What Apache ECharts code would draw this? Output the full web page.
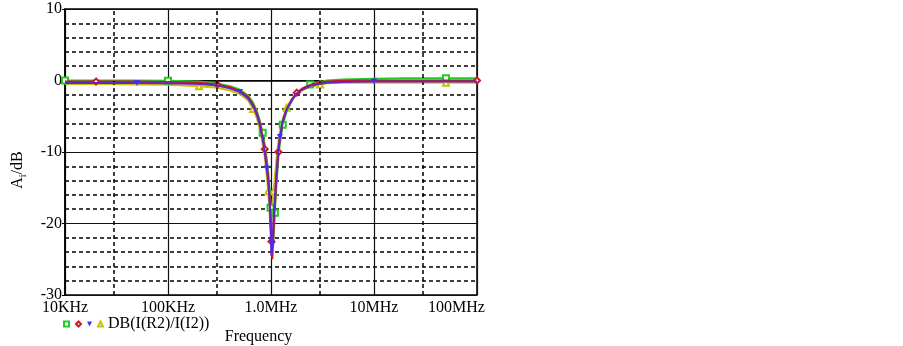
<!DOCTYPE html>
<html><head><meta charset="utf-8">
<script src="https://cdn.jsdelivr.net/npm/echarts@6/dist/echarts.min.js"></script>
<style>html,body{margin:0;padding:0;background:#fff}#c{width:903px;height:346px}</style>
</head><body><div id="c"></div>
<script>
// Frequencies (Hz)
var freqs = [1e4, 2e4, 5e4, 1e5, 2e5, 3e5, 4e5, 5e5, 6e5, 6.7e5, 7.3e5, 7.8e5, 8.3e5, 8.7e5, 9.1e5, 9.4e5, 9.7e5, 9.9e5, 1.01e6, 1.03e6, 1.06e6, 1.09e6, 1.13e6, 1.18e6, 1.22e6, 1.3e6, 1.42e6, 1.6e6, 1.78e6, 2.0e6, 2.4e6, 3.0e6, 3.5e6, 5e6, 1e7, 2e7, 5e7, 1e8];
// DB(I(R2)/I(I2)) runs
var greenDB  = [0, 0, 0, -0.05, -0.15, -0.4, -0.8, -1.3, -2.1, -3.1, -4.3, -5.6, -7.3, -9.0, -11, -12.8, -15.2, -17.8, -20.8, -23.3, -22, -18.5, -14.5, -10.8, -8.8, -6.2, -4.3, -2.8, -1.8, -1.2, -0.55, -0.2, 0, 0.15, 0.25, 0.3, 0.3, 0.3];
var redDB    = [-0.15, -0.15, -0.15, -0.2, -0.3, -0.55, -0.95, -1.45, -2.3, -3.4, -4.6, -6.0, -7.8, -9.6, -11.8, -13.6, -16.2, -19.2, -22.5, -25, -21, -17.5, -13.6, -10, -8.2, -5.8, -4.0, -2.6, -1.7, -1.15, -0.6, -0.3, -0.15, -0.05, 0, 0, 0, 0];
var purpleDB = [-0.35, -0.35, -0.35, -0.4, -0.5, -0.7, -1.1, -1.6, -2.5, -3.6, -4.8, -6.3, -8.2, -10, -12.3, -14.2, -17, -20.5, -24.5, -23, -19.5, -16.5, -13, -9.6, -7.9, -5.7, -4.0, -2.7, -1.8, -1.3, -0.75, -0.45, -0.3, -0.2, -0.15, -0.15, -0.15, -0.15];
var yellowDB = [-0.5, -0.5, -0.55, -0.6, -0.8, -1.0, -1.4, -1.9, -2.8, -4.0, -5.3, -6.9, -8.9, -10.8, -13.3, -15.5, -18.5, -21, -20, -17.5, -15.5, -13.5, -11, -8.5, -7.2, -5.3, -3.8, -2.6, -1.9, -1.4, -0.9, -0.55, -0.4, -0.3, -0.3, -0.3, -0.3, -0.3];
// Axis
var xTickLabels = ['10KHz', '100KHz', '1.0MHz', '10MHz', '100MHz'];
var minorFreqs = [3e4, 3e5, 3e6, 3e7];
var yTickValues = [-30, -20, -10, 0, 10];

function pairs(ys) { return freqs.map(function (f, i) { return [f, ys[i]]; }); }
function markerAt(idx, sym) {
  return function (v, p) { return idx.indexOf(p.dataIndex) >= 0 ? sym : 'none'; };
}
var font = 'Liberation Serif';
var triDown = 'path://M0,0L10,0L5,10Z';

var chart = echarts.init(document.getElementById('c'));
chart.setOption({
  animation: false,
  grid: { left: 65, right: 426, top: 9, bottom: 51, containLabel: false, outerBoundsMode: 'none',
    show: true, borderColor: '#000', borderWidth: 1.5 },
  legend: {
    left: 58, top: 311, itemWidth: 5, itemHeight: 5, itemGap: 5,
    textStyle: { fontFamily: font, fontSize: 16, color: '#000' },
    formatter: function (n) { return n === 'DB(I(R2)/I(I2))' ? n : ''; },
    data: [
      { name: 'g', icon: 'emptyRect' },
      { name: 'r', icon: 'emptyDiamond' },
      { name: 'p', icon: triDown },
      { name: 'DB(I(R2)/I(I2))', icon: 'emptyTriangle' }
    ]
  },
  xAxis: {
    type: 'log', logBase: 10, min: 1e4, max: 1e8,
    name: 'Frequency', nameLocation: 'middle', nameGap: 34,
    nameTextStyle: { fontFamily: font, fontSize: 16, color: '#000', padding: [0, 25, 0, 0] },
    axisLine: { lineStyle: { color: '#000', width: 1.5 } },
    axisTick: { show: true, length: 3, lineStyle: { color: '#000' } },
    axisLabel: {
      fontFamily: font, fontSize: 16, color: '#000', margin: 5,
      formatter: function (v) {
        var i = Math.round(Math.log10(v)) - 4;
        if (i === 4) return '{e|' + xTickLabels[i] + '}';
        return xTickLabels[i];
      },
      rich: { e: { fontFamily: font, fontSize: 16, color: '#000', padding: [0, 41, 0, 0] } }
    },
    splitLine: { show: true, lineStyle: { color: '#111', width: 1.2 } }
  },
  yAxis: {
    type: 'value', min: -30, max: 10, interval: 10,
    name: '{a|A}{s|i}{a|/dB}', nameLocation: 'middle', nameGap: 37, nameRotate: 90,
    nameTextStyle: { padding: [0, 36, 0, 0], rich: {
      a: { fontFamily: font, fontSize: 16, color: '#000', lineHeight: 20 },
      s: { fontFamily: font, fontSize: 10, color: '#000', verticalAlign: 'bottom', lineHeight: 20 }
    } },
    axisLine: { show: true, lineStyle: { color: '#000', width: 1.5 } },
    axisTick: { show: true, length: 3, lineStyle: { color: '#000' } },
    axisLabel: { fontFamily: font, fontSize: 16, color: '#000', margin: 3,
      formatter: function (v) { return yTickValues.indexOf(v) >= 0 ? String(v) : ''; } },
    splitLine: { show: true, lineStyle: { color: '#111', width: 1.2 } },
    minorTick: { show: false, splitNumber: 5 },
    minorSplitLine: { show: true, lineStyle: { color: '#000', width: 1.5, type: [4, 3] } }
  },
  series: [
    { type: 'line', name: 'grid', data: [], z: 1, silent: true,
      markLine: { silent: true, symbol: 'none', label: { show: false },
        lineStyle: { color: '#000', width: 1.5, type: [4, 3] },
        data: minorFreqs.map(function (f) { return { xAxis: f }; }) } },
    { type: 'line', name: 'g', data: pairs(greenDB), z: 3,
      color: '#22cc22', lineStyle: { width: 2, color: '#22cc22' },
      symbol: markerAt([0, 3, 12, 17, 21, 25, 30, 36], 'emptyRect'), symbolSize: 6, showAllSymbol: true,
      itemStyle: { color: '#22cc22', borderWidth: 1.5 } },
    { type: 'line', name: 'r', data: pairs(redDB), z: 4,
      color: '#cc1a1a', lineStyle: { width: 2, color: '#cc1a1a' },
      symbol: markerAt([1, 5, 13, 18, 23, 28, 37], 'emptyDiamond'), symbolSize: 6, showAllSymbol: true,
      itemStyle: { color: '#cc1a1a', borderWidth: 1.5 } },
    { type: 'line', name: 'p', data: pairs(purpleDB), z: 5,
      color: '#6a1fd0', lineStyle: { width: 2, color: '#6a1fd0' },
      symbol: markerAt([2, 7, 14, 19, 24, 34], triDown), symbolSize: 6, showAllSymbol: true,
      itemStyle: { color: '#4030ff' } },
    { type: 'line', name: 'DB(I(R2)/I(I2))', data: pairs(yellowDB), z: 2,
      color: '#c8c400', lineStyle: { width: 2, color: '#c8c400' },
      symbol: markerAt([4, 9, 15, 20, 26, 31, 36], 'emptyTriangle'), symbolSize: 6, showAllSymbol: true,
      itemStyle: { color: '#c8c400', borderWidth: 1.5 } }
  ]
});
</script></body></html>
